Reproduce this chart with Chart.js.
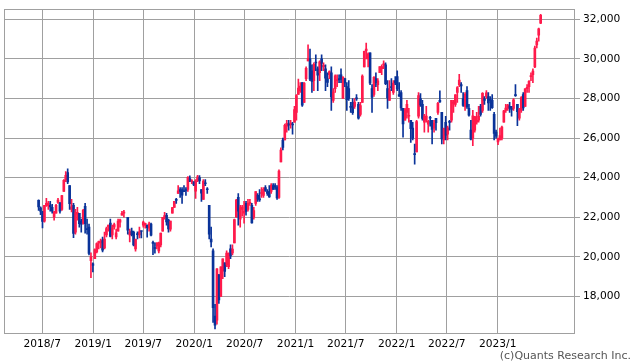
<!DOCTYPE html>
<html>
<head>
<meta charset="utf-8">
<script src="https://cdn.jsdelivr.net/npm/chart.js@4.4.0/dist/chart.umd.min.js"></script>
<style>
  html, body { margin: 0; padding: 0; background: #fff; }
  #wrap { width: 638px; height: 362px; }
</style>
</head>
<body>
<div id="wrap"><canvas id="chart" width="638" height="362"></canvas></div>
<script>
// weekly candles, first week starts Monday 2018-06-18, one row per week: [open, high, low, close]
const firstWeek = "2018-06-18";

const w2018 = [
  [22850, 22880, 22340, 22520], [22480, 22520, 22130, 22300], [22280, 22300, 21460, 21790],
  [21800, 22600, 21750, 22600], [22600, 22950, 22550, 22700], [22600, 22800, 22400, 22710],
  [22600, 22800, 22300, 22520], [22500, 22650, 22200, 22300], [22000, 22300, 21850, 22270],
  [22200, 22650, 22200, 22600], [22750, 22950, 22700, 22870], [22700, 22750, 22200, 22310],
  [22400, 23100, 22350, 23090], [23300, 23900, 23300, 23870], [23900, 24300, 23800, 24120],
  [24250, 24450, 23700, 23780], [23600, 23600, 22400, 22690], [22400, 22900, 22270, 22530],
  [22600, 22700, 20970, 21180], [21250, 22400, 21150, 22240], [22150, 22500, 21850, 22250],
  [22200, 22200, 21500, 21680], [21800, 21900, 21250, 21650], [21700, 22400, 21650, 22350],
  [22550, 22700, 21200, 21680], [21400, 21900, 21150, 21370], [21500, 21650, 20100, 20170],
  [19800, 20200, 18950, 20010]
];

const w2019 = [
  [19650, 19700, 19240, 19560], [19900, 20400, 19900, 20360], [20250, 20700, 20200, 20670],
  [20700, 20800, 20400, 20770], [20700, 20900, 20450, 20790], [20850, 21000, 20250, 20330],
  [20450, 21250, 20400, 20900], [21100, 21500, 21000, 21430], [21500, 21600, 21300, 21600],
  [21700, 21900, 21000, 21030], [21100, 21600, 20900, 21450], [21500, 21700, 21400, 21630],
  [21000, 21400, 20900, 21210], [21300, 21900, 21300, 21810], [21750, 21900, 21500, 21870],
  [22100, 22300, 22100, 22200], [22200, 22350, 22000, 22260],
  null, // golden week, market closed
  [22000, 22000, 21150, 21340], [21100, 21400, 20750, 21250], [21300, 21450, 21050, 21120],
  [21250, 21300, 20550, 20600], [20400, 20900, 20290, 20880], [21150, 21260, 20900, 21120],
  [21100, 21500, 20950, 21260], [21300, 21300, 20950, 21280], [21600, 21800, 21500, 21750],
  [21600, 21700, 21450, 21690], [21600, 21600, 20990, 21470], [21450, 21750, 21300, 21660],
  [21650, 21700, 21050, 21090], [20700, 20800, 20110, 20680], [20450, 20700, 20180, 20420],
  [20550, 20700, 20400, 20710], [20300, 20750, 20200, 20700], [20600, 21200, 20500, 21200],
  [21300, 22000, 21300, 21990], [22000, 22250, 21900, 22080], [22100, 22200, 21600, 21760],
  [21850, 21900, 21250, 21410], [21400, 21800, 21300, 21800], [22200, 22500, 22200, 22490],
  [22500, 22800, 22500, 22800], [22900, 22960, 22700, 22850], [23200, 23600, 23200, 23330],
  [23400, 23500, 23000, 23300], [23400, 23500, 22700, 23110], [23300, 23600, 23300, 23290],
  [23400, 23500, 23100, 23350], [23400, 24050, 23300, 24020], [23950, 24090, 23800, 23820],
  [23800, 23900, 23700, 23840]
];

const w2020 = [
  [23780, 23800, 23600, 23660], [23320, 23900, 22950, 23850], [23900, 24120, 23800, 24040],
  [24000, 24100, 23700, 23830], [23400, 23400, 22800, 23210], [22900, 23900, 22900, 23830],
  [23700, 23900, 23600, 23690], [23400, 23500, 23200, 23390], [22600, 22600, 20900, 21140],
  [20900, 21500, 20500, 20750], [20300, 20400, 16690, 17430], [17000, 17600, 16360, 16550],
  [16800, 19400, 16600, 19390], [19100, 19100, 17650, 17820], [18000, 19500, 18000, 19500],
  [19300, 19900, 18900, 19900], [19700, 19700, 19000, 19260], [19600, 20300, 19500, 20190],
  [19500, 20200, 19400, 20180], [20400, 20600, 19900, 20040], [20200, 20600, 20100, 20390],
  [20700, 21900, 20700, 21880], [22000, 22900, 22000, 22860], [23000, 23190, 21600, 22310],
  [21900, 22600, 21500, 22480], [22400, 22600, 22050, 22510], [22200, 22800, 21700, 22310],
  [22700, 22800, 22100, 22290], [22400, 22900, 22300, 22700], [22700, 22900, 22600, 22750],
  [22600, 22700, 21700, 21710], [22000, 22500, 21900, 22330], [22700, 23300, 22600, 23290],
  [23100, 23200, 22800, 22920], [22900, 23400, 22800, 22880], [23200, 23500, 23000, 23210],
  [23100, 23500, 23000, 23410], [23500, 23600, 23300, 23360], [23300, 23400, 23100, 23200],
  [23300, 23600, 23000, 23030], [23300, 23700, 23200, 23620], [23600, 23700, 23400, 23410],
  [23600, 23700, 23400, 23520], [23500, 23600, 22900, 22980], [23000, 24400, 22950, 24330],
  [24800, 25500, 24800, 25390], [25900, 26000, 25400, 25530], [25900, 26700, 25900, 26640],
  [26600, 26900, 26300, 26750], [26700, 26900, 26400, 26650], [26700, 26900, 26500, 26760],
  [26700, 26800, 26200, 26660], [26800, 27600, 26800, 27440]
];

const w2021 = [
  [27300, 28200, 26900, 28140], [28200, 28980, 28200, 28520], [28400, 28800, 28300, 28630],
  [28800, 28800, 27600, 27660], [27800, 28800, 27800, 28780], [29000, 29600, 28900, 29520],
  [29900, 30710, 29900, 30020], [30000, 30500, 28900, 28970], [29400, 29700, 28300, 28860],
  [28900, 29800, 28400, 29720], [29800, 30200, 29400, 29790], [29500, 29600, 28400, 29180],
  [29300, 29900, 28900, 29850], [30000, 30200, 29400, 29770], [29600, 29800, 29400, 29680],
  [29500, 29700, 28400, 29020], [29000, 29300, 28600, 28810], [29200, 29400, 29000, 29360],
  [29300, 29600, 27400, 28080], [27900, 28500, 27800, 28320], [28500, 29200, 28300, 29150],
  [28900, 29200, 28600, 28940], [29000, 29200, 28800, 28950], [29200, 29500, 28800, 28960],
  [28000, 29100, 28000, 29070], [29000, 29000, 28600, 28780], [28600, 28800, 27400, 27940],
  [28500, 28900, 27900, 28000], [27600, 27800, 27300, 27550], [27800, 28000, 27200, 27280],
  [27600, 28000, 27500, 27820], [28000, 28200, 27900, 27980], [27700, 27800, 26950, 27010],
  [27200, 27800, 27100, 27640], [27800, 29200, 27800, 29130], [29600, 30400, 29600, 30380],
  [30400, 30800, 30000, 30500], [30000, 30300, 29600, 30250], [30300, 30300, 28700, 28770],
  [28500, 28700, 27290, 28050], [28200, 29100, 28100, 29070], [29000, 29300, 28600, 28800],
  [28700, 29000, 28400, 28890], [29300, 29600, 29300, 29610], [29500, 29700, 29200, 29610],
  [29700, 29900, 29500, 29750], [29700, 29800, 28700, 28750], [28500, 28900, 27500, 28030],
  [27900, 28900, 27900, 28440], [28600, 29000, 28400, 28550], [28300, 28900, 28200, 28780],
  [28900, 29100, 28700, 28790]
];

const w2022 = [
  [29100, 29400, 28400, 28480], [28200, 28800, 28100, 28120], [28300, 28400, 27400, 27520],
  [27500, 27500, 26040, 26720], [26900, 27500, 26900, 27440], [27300, 27900, 27000, 27700],
  [27100, 27500, 26800, 27120], [26900, 26900, 25780, 26480], [26500, 26800, 25900, 25990],
  [25200, 25700, 24680, 25160], [25300, 26900, 25300, 26830], [27100, 28300, 27000, 28150],
  [28000, 28250, 27600, 27670], [27700, 27900, 26900, 26990], [26800, 27200, 26300, 27090],
  [26900, 27600, 26800, 27110], [26700, 26900, 26300, 26850], [27050, 27100, 26600, 27000],
  [26900, 26900, 25700, 26430], [26500, 26900, 26300, 26740], [27000, 27000, 26400, 26780],
  [27300, 27800, 27200, 27760], [27900, 28390, 27800, 27820], [27300, 27300, 25700, 25960],
  [25900, 26500, 25700, 26490], [26800, 27100, 25900, 26150], [26200, 26600, 25900, 26520],
  [26800, 26900, 26400, 26790], [26900, 27900, 26800, 27910], [27750, 27900, 27300, 27800],
  [27700, 28200, 27600, 28180], [28300, 28600, 27800, 28550], [28700, 29220, 28600, 28930],
  [28700, 28800, 28300, 28640], [28000, 28300, 27600, 27650], [27600, 28300, 27400, 28210],
  [28400, 28600, 27500, 27570], [27500, 27700, 27100, 27150], [26400, 26900, 25900, 25940],
  [26000, 27400, 25620, 27120], [26400, 27100, 26300, 27090], [26800, 27300, 26700, 26890],
  [26900, 27600, 26800, 27110], [27600, 27700, 27100, 27200], [27400, 28300, 27300, 28260],
  [28000, 28100, 27700, 27900], [28100, 28400, 28000, 28280], [28100, 28300, 27400, 27780],
  [27950, 28100, 27400, 27900], [27900, 28200, 27500, 27530], [27200, 27300, 25900, 26240],
  [26300, 26400, 26000, 26090]
];

const w2023 = [
  [25800, 26000, 25660, 25970], [25900, 26500, 25900, 26120], [26000, 26600, 25900, 26550],
  [26800, 27400, 26800, 27380], [27400, 27700, 27300, 27510], [27500, 27700, 27400, 27670],
  [27600, 27800, 27300, 27510], [27500, 27600, 27100, 27450], [27500, 28000, 27400, 27930],
  [28200, 28700, 28100, 28140], [27700, 27700, 26630, 27330], [27000, 27500, 26900, 27390],
  [27400, 28100, 27300, 28040], [28200, 28300, 27400, 27520], [27600, 28500, 27600, 28490],
  [28500, 28700, 28300, 28560], [28600, 28900, 28300, 28860], [29100, 29300, 28900, 29160],
  [29200, 29500, 28800, 29390], [29600, 30650, 29550, 30550], [30700, 31050, 30550, 30900],
  [31200, 31560, 30900, 31520], [31800, 32250, 31780, 32200]
];

const xTickLabels = ["2018/7", "2019/1", "2019/7", "2020/1", "2020/7", "2021/1", "2021/7", "2022/1", "2022/7", "2023/1"];
const yTickValues = [18000, 20000, 22000, 24000, 26000, 28000, 30000, 32000];

const RED = "#ff1a4b";
const BLUE = "#0a3399";
const GRID = "#a0a0a0";
const FONT = { family: "'DejaVu Sans', Verdana, sans-serif", size: 10.67 };

// x axis works in days
const toDay = s => Date.parse(s + "T00:00:00Z") / 86400000;
const monthDay = label => {
  const [y, m] = label.split("/");
  return toDay(y + "-" + String(m).padStart(2, "0") + "-01");
};

const rows = [].concat(w2018, w2019, w2020, w2021, w2022, w2023);
const start = toDay(firstWeek);
const candles = [];
rows.forEach((r, i) => {
  if (!r) return;
  candles.push({ x: start + i * 7, o: r[0], h: r[1], l: r[2], c: r[3] });
});
const colors = candles.map(k => (k.c >= k.o ? RED : BLUE));

const frame = {
  id: "frame",
  beforeDatasetsDraw(chart) {
    const a = chart.chartArea, ctx = chart.ctx;
    ctx.save();
    ctx.strokeStyle = GRID;
    ctx.lineWidth = 1;
    ctx.strokeRect(Math.round(a.left) + 0.5, Math.round(a.top) + 0.5,
      Math.round(a.right) - Math.round(a.left) - 1, Math.round(a.bottom) - Math.round(a.top) - 1);
    ctx.restore();
  }
};

const credit = {
  id: "credit",
  afterDraw(chart) {
    const ctx = chart.ctx;
    ctx.save();
    ctx.font = "11px 'DejaVu Sans', Verdana, sans-serif";
    ctx.fillStyle = "#555";
    ctx.textAlign = "right";
    ctx.textBaseline = "alphabetic";
    ctx.fillText("(c)Quants Research Inc.", 631, 359);
    ctx.restore();
  }
};

new Chart(document.getElementById("chart"), {
  type: "bar",
  data: {
    datasets: [
      {
        data: candles.map(k => ({ x: k.x, y: [k.l, k.h] })),
        backgroundColor: colors,
        barThickness: 1,
        grouped: false
      },
      {
        data: candles.map(k => ({ x: k.x, y: [k.o, k.c] })),
        backgroundColor: colors,
        barThickness: 2,
        minBarLength: 1,
        grouped: false
      }
    ]
  },
  options: {
    responsive: false,
    animation: false,
    devicePixelRatio: 1,
    layout: { padding: { left: 4, top: 1, right: 0, bottom: 0 } },
    plugins: { legend: { display: false }, tooltip: { enabled: false } },
    scales: {
      x: {
        type: "linear",
        offset: false,
        min: toDay("2018-02-13"),
        max: toDay("2023-10-07"),
        grid: { color: GRID, drawTicks: false, offset: false },
        border: { display: false },
        ticks: {
          font: FONT, color: "#000", padding: 4, maxRotation: 0, autoSkip: false,
          callback: (v, i) => xTickLabels[i]
        },
        afterBuildTicks: s => { s.ticks = xTickLabels.map(t => ({ value: monthDay(t) })); },
        afterFit: s => { s.height = 28; }
      },
      y: {
        position: "right",
        min: 16100,
        max: 32500,
        grid: { color: GRID, tickLength: 5 },
        border: { display: false },
        ticks: {
          font: FONT, color: "#000", padding: 3,
          callback: v => v.toLocaleString("en-US")
        },
        afterBuildTicks: s => { s.ticks = yTickValues.map(v => ({ value: v })); },
        afterFit: s => { s.width = 63; }
      }
    }
  },
  plugins: [frame, credit]
});
</script>
</body>
</html>
